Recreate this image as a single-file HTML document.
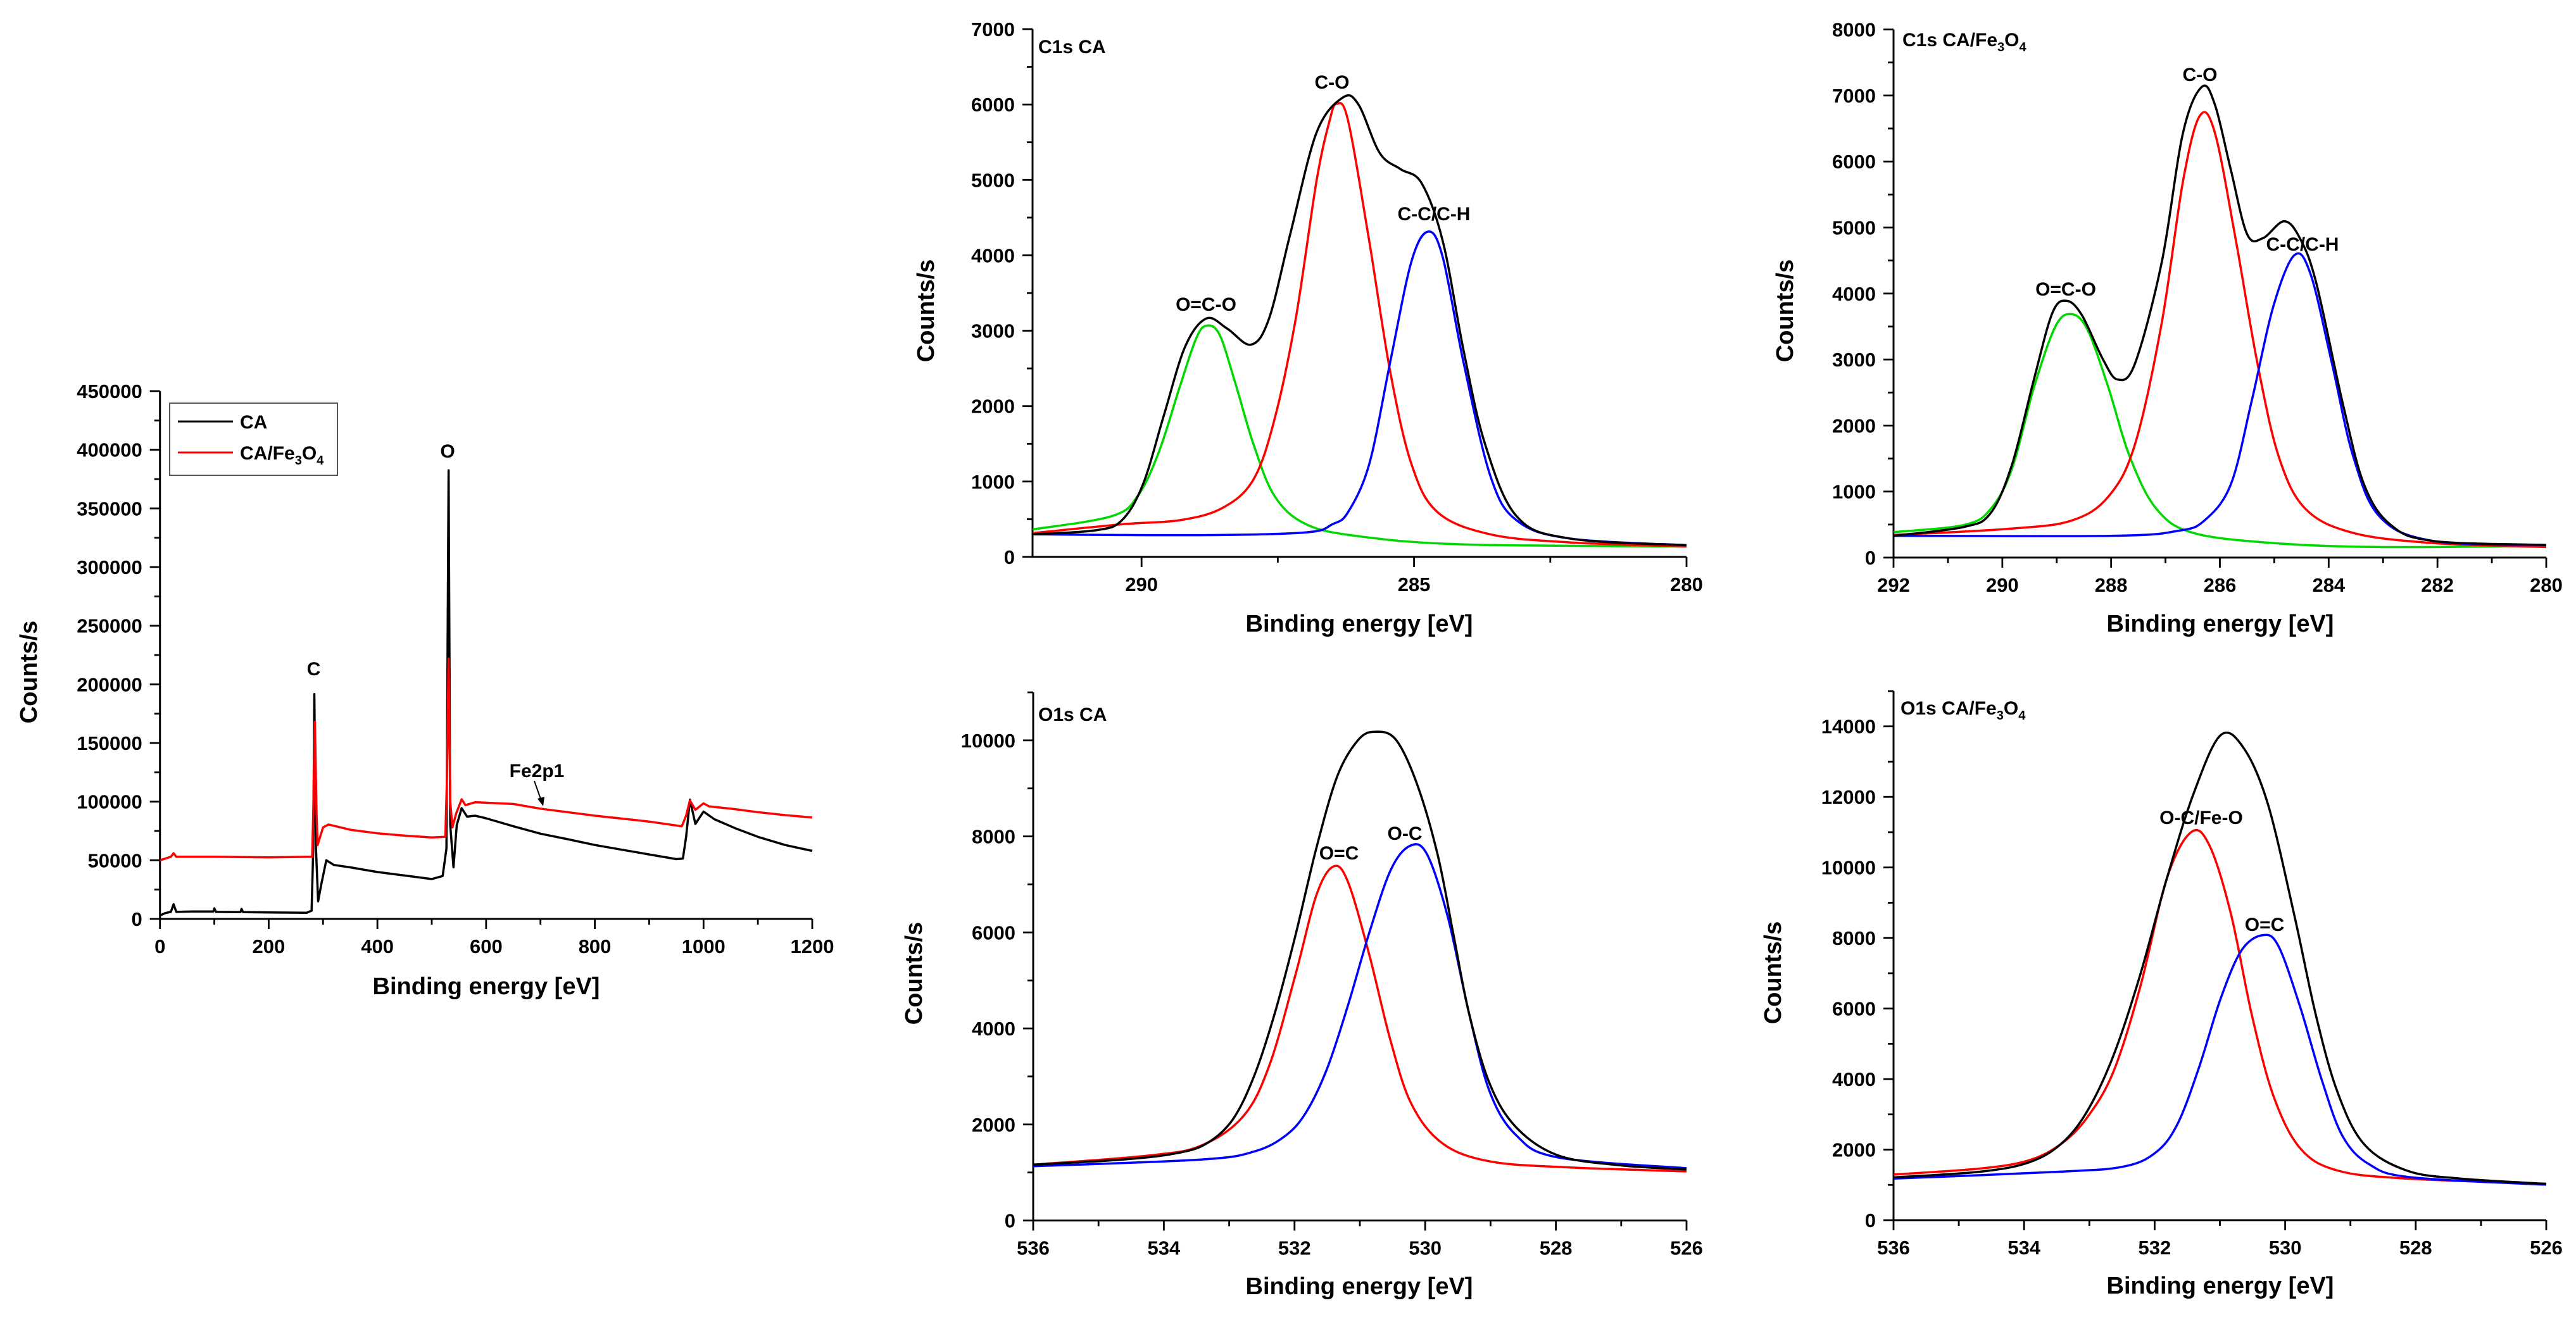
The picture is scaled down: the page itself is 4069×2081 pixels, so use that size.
<!DOCTYPE html>
<html><head><meta charset="utf-8"><style>
html,body{margin:0;padding:0;background:#fff;}
svg{display:block;font-family:"Liberation Sans",Arial,sans-serif;font-weight:bold;}
</style></head><body>
<svg id="fig" width="4069" height="2081" viewBox="0 0 4069 2081" xmlns="http://www.w3.org/2000/svg"></svg>
<script>
// ---------- Survey ----------
const surveyCA = [[0,2900],[10,5000],[20,6000],[25,12500],[30,6000],[60,6300],[98,6300],[100,9000],[103,6000],[148,5800],[150,8500],[153,5800],[200,5500],[270,5300],[279,7000],[282,60000],[284,191700],[287,60000],[291,15000],[297,30000],[306,50000],[320,46000],[350,44000],[400,40000],[450,37000],[500,34000],[520,36600],[527,60000],[531,382500],[534,80000],[540,44000],[546,80000],[555,94400],[565,87200],[580,88000],[600,85800],[650,79000],[700,72700],[750,68000],[800,63000],[850,59000],[900,55000],[950,51000],[962,51500],[968,70000],[975,101700],[985,81000],[1000,91500],[1020,85000],[1060,77000],[1100,70000],[1150,63000],[1200,58000]];
const surveyFe = [[0,50000],[20,53000],[25,56000],[30,53000],[100,53000],[200,52500],[280,53000],[282,90000],[285,168000],[288,90000],[290,63000],[300,78000],[310,80500],[350,76000],[400,73000],[450,71000],[500,69500],[525,70000],[528,120000],[531,222000],[534,100000],[538,78000],[545,90000],[555,102000],[562,97000],[580,99500],[650,98000],[700,94000],[750,91000],[800,88000],[850,85500],[900,83000],[960,79000],[968,88000],[975,101000],[985,93000],[1000,98500],[1010,96000],[1050,94000],[1100,91000],[1150,88500],[1200,86500]];
const surveyXTicks = [0,200,400,600,800,1000,1200];
const surveyYTicks = [0,50000,100000,150000,200000,250000,300000,350000,400000,450000];

// ---------- C1s CA ----------
const c1sCaGreen = [[292,364],[290.55,540],[290.07,808],[289.68,1397],[289.3,2253],[289.0,2895],[288.81,3067],[288.57,2949],[288.28,2307],[287.95,1504],[287.56,808],[286.98,433],[286.0,273],[284.09,166],[280,139]];
const c1sCaRed = [[292,316],[290.36,433],[289.3,487],[288.52,648],[287.95,1022],[287.56,1825],[287.17,3163],[286.79,4983],[286.55,5786],[286.42,6010],[286.21,5786],[285.82,4180],[285.44,2467],[285.05,1236],[284.57,594],[283.6,300],[282.16,193],[280,139]];
const c1sCaBlue = [[292,300],[288.9,289],[286.98,326],[286.5,433],[286.21,594],[285.82,1236],[285.44,2574],[285.05,3912],[284.74,4314],[284.47,3966],[284.09,2574],[283.6,1076],[283.12,487],[282.16,246],[280,155]];
const c1sCaBlack = [[292,300],[290.84,353],[290.36,487],[289.97,969],[289.59,1879],[289.2,2788],[288.81,3163],[288.43,3029],[287.99,2815],[287.66,3163],[287.27,4287],[286.79,5625],[286.31,6091],[286.02,6000],[285.63,5357],[285.25,5143],[284.86,4956],[284.47,4180],[284.09,2735],[283.7,1504],[283.12,541],[282.16,246],[280,155]];
const c1sCaXTicks = [290,285,280];
const c1sCaYTicks = [0,1000,2000,3000,4000,5000,6000,7000];

// ---------- C1s CA/Fe3O4 ----------
const c1sFeGreen = [[292,385],[290.7,495],[290.21,740],[289.82,1352],[289.42,2575],[289.03,3492],[288.74,3688],[288.44,3462],[288.05,2575],[287.66,1535],[287.17,740],[286.49,373],[285.02,220],[283.06,159],[280,177]];
const c1sFeRed = [[292,342],[289.91,434],[288.74,557],[288.05,924],[287.56,1719],[287.07,3553],[286.68,5694],[286.37,6691],[286.09,6428],[285.7,4776],[285.31,2942],[284.92,1535],[284.43,740],[283.55,373],[282.08,220],[280,159]];
const c1sFeBlue = [[292,330],[287.95,330],[286.78,404],[286.29,557],[285.8,1107],[285.41,2391],[285.02,3798],[284.63,4581],[284.33,4287],[283.94,2942],[283.55,1535],[283.06,618],[282.08,251],[280,190]];
const c1sFeBlack = [[292,330],[290.7,465],[290.21,679],[289.82,1413],[289.42,2697],[289.08,3706],[288.82,3890],[288.54,3676],[288.15,3003],[287.88,2697],[287.56,2942],[287.07,4471],[286.68,6428],[286.33,7131],[286.09,6856],[285.8,5878],[285.5,4899],[285.21,4838],[284.82,5095],[284.53,4838],[284.23,4165],[283.74,2330],[283.35,1107],[282.86,495],[282.08,251],[280,190]];
const c1sFeXTicks = [292,290,288,286,284,282,280];
const c1sFeYTicks = [0,1000,2000,3000,4000,5000,6000,7000,8000];

// ---------- O1s CA ----------
const o1sCaBlack = [[536,1163],[534.63,1270],[533.83,1394],[533.35,1600],[532.95,2095],[532.62,3003],[532.3,4323],[531.98,5973],[531.66,7788],[531.34,9273],[531.02,10016],[530.76,10180],[530.45,10016],[530.13,9108],[529.81,7623],[529.57,5973],[529.33,4323],[529.01,2838],[528.6,1930],[527.96,1353],[527.0,1147],[526,1064]];
const o1sCaRed = [[536,1163],[534.23,1353],[533.43,1559],[532.78,2178],[532.38,3250],[531.98,5148],[531.66,6798],[531.4,7376],[531.18,7045],[530.86,5560],[530.53,3745],[530.21,2425],[529.73,1600],[529.0,1229],[527.8,1106],[526,1023]];
const o1sCaBlue = [[536,1130],[533.43,1270],[532.62,1435],[532.14,1765],[531.82,2260],[531.5,3168],[531.18,4488],[530.86,5973],[530.53,7293],[530.23,7805],[529.97,7623],[529.65,6303],[529.33,4323],[529.01,2673],[528.6,1765],[527.96,1312],[526,1089]];
const o1sCaXTicks = [536,534,532,530,528,526];
const o1sCaYTicks = [0,2000,4000,6000,8000,10000];

// ---------- O1s CA/Fe3O4 ----------
const o1sFeBlack = [[536,1213],[534.67,1374],[533.93,1637],[533.44,2152],[533.04,3068],[532.63,4670],[532.22,6960],[531.81,9707],[531.4,12111],[530.99,13748],[530.63,13370],[530.26,11768],[529.85,8562],[529.53,5815],[529.2,3640],[528.79,2152],[528.14,1408],[527.32,1179],[526,1030]];
const o1sFeRed = [[536,1294],[534.67,1465],[533.93,1694],[533.44,2152],[533.04,2896],[532.63,4213],[532.22,6616],[531.81,9707],[531.44,11000],[531.16,10623],[530.83,8677],[530.51,5815],[530.18,3526],[529.77,2038],[529.2,1408],[528.14,1179],[526,1030]];
const o1sFeBlue = [[536,1179],[533.44,1374],[532.47,1522],[531.98,1923],[531.65,2724],[531.32,4327],[530.99,6273],[530.67,7647],[530.34,8082],[530.1,7761],[529.77,6044],[529.44,3984],[529.12,2381],[528.71,1580],[528.06,1213],[526,1007]];
const o1sFeXTicks = [536,534,532,530,528,526];
const o1sFeYTicks = [0,2000,4000,6000,8000,10000,12000,14000];

const NS = "http://www.w3.org/2000/svg";
const svg = document.getElementById('fig');
function mk(tag, attrs, parent){
  const e = document.createElementNS(NS, tag);
  for (const k in attrs) e.setAttribute(k, attrs[k]);
  (parent||svg).appendChild(e);
  return e;
}
function smoothPath(pts){
  let d = "M"+pts[0][0].toFixed(1)+","+pts[0][1].toFixed(1);
  for (let i=0;i<pts.length-1;i++){
    const p0=pts[Math.max(0,i-1)], p1=pts[i], p2=pts[i+1], p3=pts[Math.min(pts.length-1,i+2)];
    const c1x=p1[0]+(p2[0]-p0[0])/6, c1y=p1[1]+(p2[1]-p0[1])/6;
    const c2x=p2[0]-(p3[0]-p1[0])/6, c2y=p2[1]-(p3[1]-p1[1])/6;
    d += " C"+c1x.toFixed(1)+","+c1y.toFixed(1)+" "+c2x.toFixed(1)+","+c2y.toFixed(1)+" "+p2[0].toFixed(1)+","+p2[1].toFixed(1);
  }
  return d;
}
function panel(cfg){
  const g = mk('g', {});
  
  
  const sx = v => cfg.L + (v - cfg.xmin)/(cfg.xmax - cfg.xmin)*(cfg.R - cfg.L);
  const sy = v => cfg.B - (v - cfg.ymin)/(cfg.ymax - cfg.ymin)*(cfg.B - cfg.T);
  const ax = mk('path', {d:`M${cfg.L},${cfg.T} L${cfg.L},${cfg.B} L${cfg.R},${cfg.B}`, fill:'none', stroke:'#000', 'stroke-width':3}, g);
  
  
  const yStep = cfg.yTicks[1]-cfg.yTicks[0];
  for (let v=cfg.ymin; v<=cfg.ymax+1e-9; v+=yStep/2){
    const major = cfg.yTicks.some(t=>Math.abs(t-v)<1e-6);
    mk('line',{x1:cfg.L-(major?16:9),x2:cfg.L,y1:sy(v),y2:sy(v),stroke:'#000','stroke-width':2.8},g);
  }
  cfg.yTicks.forEach(v=>{
    const t = mk('text',{x:cfg.L-28,y:sy(v)+11,'text-anchor':'end','font-size':31},g);
    t.textContent = v;
    
    
  });
  cfg.xMinor.forEach(v=>{
    const major = cfg.xTicks.some(t=>Math.abs(t-v)<1e-6);
    mk('line',{x1:sx(v),x2:sx(v),y1:cfg.B,y2:cfg.B+(major?16:9),stroke:'#000','stroke-width':2.8},g);
  });
  cfg.xTicks.forEach(v=>{
    const t = mk('text',{x:sx(v),y:cfg.B+54,'text-anchor':'middle','font-size':31},g);
    t.textContent = v;
    
    
  });
  const xt = mk('text',{x:cfg.xtX,y:cfg.xtY+13,'text-anchor':'middle','font-size':38},g);
  xt.textContent = 'Binding energy [eV]';
  
  
  const yt = mk('text',{x:0,y:0,'text-anchor':'middle','font-size':38,transform:`translate(${cfg.ytX+13},${cfg.ytY}) rotate(-90)`},g);
  yt.textContent = 'Counts/s';
  
  
  const clip = 'clip-'+cfg.name;
  const cp = mk('clipPath',{id:clip},g);
  mk('rect',{x:cfg.L,y:cfg.T-30,width:cfg.R-cfg.L+4,height:cfg.B-cfg.T+30},cp);
  cfg.series.forEach(s=>{
    const pts = s.data.map(p=>[sx(p[0]), sy(p[1])]);
    const d = cfg.smooth ? smoothPath(pts) : "M"+pts.map(p=>p[0].toFixed(1)+","+p[1].toFixed(1)).join(" L");
    const p = mk('path',{d:d,fill:'none',stroke:s.color,'stroke-width':3.5,'stroke-linejoin':'round','clip-path':`url(#${clip})`},g);
    
    
  });
  return g;
}
function label(txt, x, y, name, size){
  const t = mk('text',{x:x,y:y+11,'text-anchor':'middle','font-size':size||30});
  t.textContent = txt;
  
  
  return t;
}
function feLabel(prefix, x, y, name, anchor){
  const t = mk('text',{x:x,y:y+11,'text-anchor':anchor||'start','font-size':30});
  
  
  const a = mk('tspan',{},t); a.textContent = prefix+'Fe';
  const b = mk('tspan',{dy:8,'font-size':20},t); b.textContent='3';
  const c = mk('tspan',{dy:-8},t); c.textContent='O';
  const d = mk('tspan',{dy:8,'font-size':20},t); d.textContent='4';
  return t;
}

panel({name:'survey-panel', L:252.7, R:1283, T:618, B:1452, xmin:0, xmax:1200, ymin:0, ymax:450000,
  xTicks:surveyXTicks, xMinor:[0,100,200,300,400,500,600,700,800,900,1000,1100,1200],
  yTicks:surveyYTicks, xtX:768, xtY:1558, ytX:45, ytY:1062, smooth:false,
  series:[{name:'survey-ca-line',color:'#000',data:surveyCA},{name:'survey-ca-fe3o4-line',color:'#f00',data:surveyFe}]});
const lg = mk('g',{});


mk('rect',{x:268,y:637,width:265,height:114,fill:'#fff',stroke:'#555','stroke-width':2},lg);
mk('line',{x1:281,x2:368,y1:666,y2:666,stroke:'#000','stroke-width':3},lg);
mk('line',{x1:281,x2:368,y1:715,y2:715,stroke:'#f00','stroke-width':3},lg);
const lt1 = mk('text',{x:379,y:677,'font-size':30},lg); lt1.textContent='CA';


const lt2 = feLabel('CA/', 379, 715, 'legend-entry-ca-fe3o4');
lg.appendChild(lt2);
label('C', 495.5, 1056, 'peak-label-c');
label('O', 707, 712, 'peak-label-o');
label('Fe2p1', 848, 1217, 'peak-label-fe2p1');
const arr = mk('path',{d:'M844,1234 L856,1268',stroke:'#000','stroke-width':2,fill:'none'});


const arrh = mk('path',{d:'M858,1274 L849,1262 L860,1259 Z',fill:'#000'});



panel({name:'c1s-ca-panel', L:1631, R:2664, T:46, B:880, xmin:292, xmax:280, ymin:0, ymax:7000,
  xTicks:c1sCaXTicks, xMinor:[290,287.5,285,282.5,280], yTicks:c1sCaYTicks,
  xtX:2147, xtY:985, ytX:1462, ytY:491, smooth:true,
  series:[{name:'c1s-ca-oco-fit',color:'#00d800',data:c1sCaGreen},{name:'c1s-ca-co-fit',color:'#f00',data:c1sCaRed},{name:'c1s-ca-cc-fit',color:'#00f',data:c1sCaBlue},{name:'c1s-ca-envelope',color:'#000',data:c1sCaBlack}]});
const t1 = mk('text',{x:1640,y:84,'font-size':30}); t1.textContent='C1s CA';


label('C-O', 2104, 129, 'label-c-o');
label('C-C/C-H', 2265, 337, 'label-cc-ch');
label('O=C-O', 1905, 480, 'label-oco');

panel({name:'c1s-fe-panel', L:2991, R:4022, T:46.6, B:881, xmin:292, xmax:280, ymin:0, ymax:8000,
  xTicks:c1sFeXTicks, xMinor:[292,291,290,289,288,287,286,285,284,283,282,281,280], yTicks:c1sFeYTicks,
  xtX:3507, xtY:985, ytX:2819, ytY:491, smooth:true,
  series:[{name:'c1s-fe-oco-fit',color:'#00d800',data:c1sFeGreen},{name:'c1s-fe-co-fit',color:'#f00',data:c1sFeRed},{name:'c1s-fe-cc-fit',color:'#00f',data:c1sFeBlue},{name:'c1s-fe-envelope',color:'#000',data:c1sFeBlack}]});
feLabel('C1s CA/', 3005, 62, 'c1s-fe-title');
label('C-O', 3475, 117, 'label-c-o-fe');
label('C-C/C-H', 3637, 385, 'label-cc-ch-fe');
label('O=C-O', 3263, 456, 'label-oco-fe');

panel({name:'o1s-ca-panel', L:1632, R:2664, T:1094, B:1928.5, xmin:536, xmax:526, ymin:0, ymax:11000,
  xTicks:o1sCaXTicks, xMinor:[536,535,534,533,532,531,530,529,528,527,526], yTicks:o1sCaYTicks,
  xtX:2147, xtY:2032, ytX:1443, ytY:1538, smooth:true,
  series:[{name:'o1s-ca-oc-double-fit',color:'#f00',data:o1sCaRed},{name:'o1s-ca-oc-single-fit',color:'#00f',data:o1sCaBlue},{name:'o1s-ca-envelope',color:'#000',data:o1sCaBlack}]});
const t3 = mk('text',{x:1640,y:1139,'font-size':30}); t3.textContent='O1s CA';


label('O=C', 2115, 1347, 'label-o-double-c');
label('O-C', 2219, 1316, 'label-o-c');

panel({name:'o1s-fe-panel', L:2991, R:4022, T:1092, B:1928, xmin:536, xmax:526, ymin:0, ymax:15000,
  xTicks:o1sFeXTicks, xMinor:[536,535,534,533,532,531,530,529,528,527,526], yTicks:o1sFeYTicks,
  xtX:3507, xtY:2031, ytX:2800, ytY:1537, smooth:true,
  series:[{name:'o1s-fe-oc-feo-fit',color:'#f00',data:o1sFeRed},{name:'o1s-fe-oc-fit',color:'#00f',data:o1sFeBlue},{name:'o1s-fe-envelope',color:'#000',data:o1sFeBlack}]});
feLabel('O1s CA/', 3002, 1118, 'o1s-fe-title');
label('O-C/Fe-O', 3477, 1291, 'label-oc-feo');
label('O=C', 3577, 1460, 'label-o-double-c-fe');
</script>
</body></html>
